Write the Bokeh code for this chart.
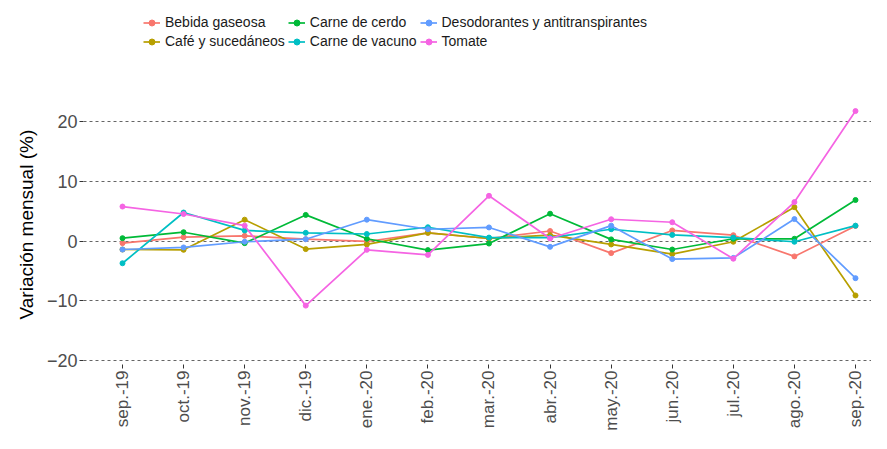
from bokeh.plotting import figure
from bokeh.models import Legend, LegendItem, FixedTicker, Range1d, Title
from bokeh.embed import file_html
from bokeh.resources import INLINE
import math

months = ["sep.-19", "oct.-19", "nov.-19", "dic.-19", "ene.-20", "feb.-20", "mar.-20",
          "abr.-20", "may.-20", "jun.-20", "jul.-20", "ago.-20", "sep.-20"]

bebida = [-0.33, 0.67, 0.9, 0.33, -0.05, 1.4, 0.45, 1.7, -2.0, 1.8, 1.0, -2.55, 2.55]
cafe = [-1.4, -1.45, 3.6, -1.33, -0.55, 1.4, 0.45, 1.0, -0.55, -2.17, -0.1, 5.7, -9.1]
cerdo = [0.5, 1.5, -0.33, 4.4, 0.4, -1.5, -0.4, 4.6, 0.3, -1.4, 0.4, 0.4, 6.9]
vacuno = [-3.7, 4.8, 1.8, 1.4, 1.2, 2.33, 0.6, 0.6, 2.0, 1.05, 0.6, -0.1, 2.6]
desodorantes = [-1.4, -1.05, -0.1, 0.33, 3.6, 2.0, 2.3, -0.95, 2.6, -3.0, -2.8, 3.7, -6.2]
tomate = [5.8, 4.55, 2.6, -10.8, -1.45, -2.3, 7.6, 0.45, 3.67, 3.17, -2.94, 6.55, 21.8]

series = [
    ("Bebida gaseosa", bebida, "#F8766D"),
    ("Café y sucedáneos", cafe, "#B79F00"),
    ("Carne de cerdo", cerdo, "#00BA38"),
    ("Carne de vacuno", vacuno, "#00BFC4"),
    ("Desodorantes y antitranspirantes", desodorantes, "#619CFF"),
    ("Tomate", tomate, "#F564E3"),
]

y_ticks = [-20, -10, 0, 10, 20]
y_title = "Variación mensual (%)"
FONT = "Liberation Sans"

xs = list(range(len(months)))

# frame spans the top of the canvas so the legend (inside it) is not clipped;
# y-range chosen so the data band sits below the legend
p = figure(width=871, height=433, output_backend="svg", toolbar_location=None,
           x_range=Range1d(-0.6385, 12.262), y_range=Range1d(-20.667, 40.33),
           min_border_left=83, min_border_right=0, min_border_top=0, min_border_bottom=68)
p.outline_line_color = None
p.background_fill_color = "white"

items = {}
for name, vals, col in series:
    l = p.line(xs, vals, line_color=col, line_width=1.7)
    s = p.scatter(xs, vals, fill_color=col, line_color=col, size=5)
    items[name] = LegendItem(label=name, renderers=[l, s])

order = ["Bebida gaseosa", "Carne de cerdo", "Desodorantes y antitranspirantes",
         "Café y sucedáneos", "Carne de vacuno", "Tomate"]
legend = Legend(items=[items[n] for n in order], orientation="horizontal", ncols=3,
                location=(60, 315), padding=0, margin=0, spacing=3,
                label_standoff=5, glyph_width=17, glyph_height=15, label_height=15,
                label_text_font=FONT, label_text_font_size="14px", label_text_color="#1a1a1a",
                border_line_color=None, background_fill_alpha=0)
p.add_layout(legend, "center")

# axes
p.xaxis.ticker = FixedTicker(ticks=xs)
p.xaxis.major_label_overrides = {i: m for i, m in enumerate(months)}
p.xaxis.major_label_orientation = math.pi / 2
p.yaxis.ticker = FixedTicker(ticks=y_ticks)
for ax in (p.xaxis, p.yaxis):
    ax.axis_line_color = None
    ax.major_tick_line_color = "#333333"
    ax.major_tick_out = 4
    ax.major_tick_in = 0
    ax.minor_tick_line_color = None
    ax.major_label_text_font = FONT
    ax.major_label_text_color = "#4d4d4d"
    ax.major_label_standoff = 2
p.xaxis.major_label_text_font_size = "17px"
p.yaxis.major_label_text_font_size = "18px"

t = Title(text=y_title, align="left", offset=45, text_font=FONT, text_font_size="19px",
          text_font_style="normal", text_color="black", standoff=13)
p.add_layout(t, "left")

p.xgrid.grid_line_color = None
p.ygrid.grid_line_color = "#666666"
p.ygrid.grid_line_dash = "3 3"
p.ygrid.grid_line_width = 1

open("out.html", "w").write(file_html(p, INLINE))
